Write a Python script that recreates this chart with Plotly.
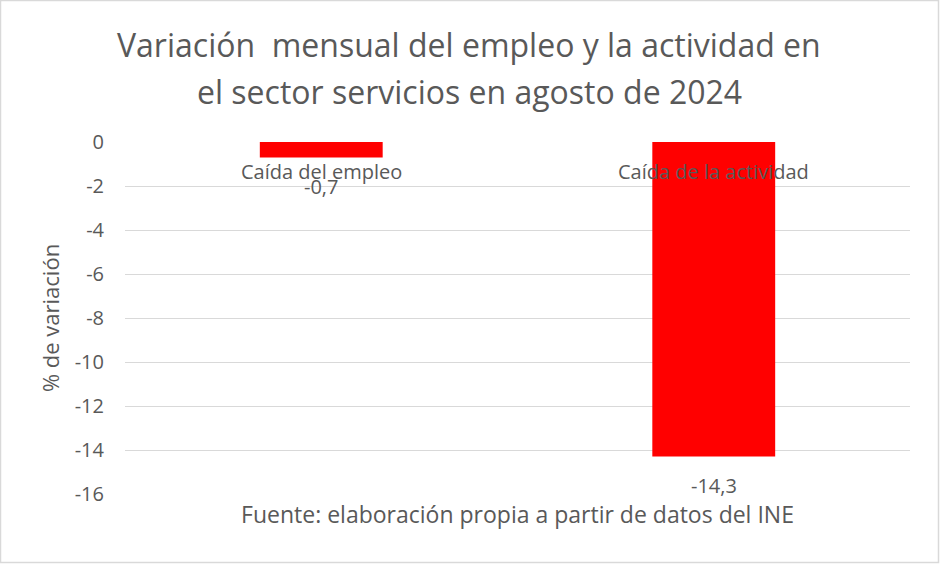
import plotly.graph_objects as go

categories = ["Caída del empleo", "Caída de la actividad"]
values = [-0.7, -14.3]
value_labels = ["-0,7", "-14,3"]
y_ticks = [0, -2, -4, -6, -8, -10, -12, -14, -16]

title_lines = ["Variación  mensual del empleo y la actividad en",
               "el sector servicios en agosto de 2024"]
source_text = "Fuente: elaboración propia a partir de datos del INE"
y_title = "% de variación"

FONT = "Open Sans"
GREY = "#595959"

L, R, T, B = 125, 30, 142, 70
W, H = 940, 564
pw, ph = W - L - R, H - T - B


def py(pixel_y):
    """convert a pixel row of the page to paper y"""
    return (ph + T - pixel_y) / ph


fig = go.Figure()
fig.add_trace(go.Bar(x=categories, y=values, marker=dict(color="#ff0000", line=dict(width=0)),
                     hoverinfo="skip"))

# category labels placed near the zero line, like the original
for c in categories:
    fig.add_annotation(x=c, y=0, xref="x", yref="y", text=c, showarrow=False,
                       yshift=-29, font=dict(family=FONT, size=20, color=GREY))
# value labels below each bar end
for c, v, t in zip(categories, values, value_labels):
    fig.add_annotation(x=c, y=v, xref="x", yref="y", text=t, showarrow=False,
                       yshift=-29, font=dict(family=FONT, size=20, color=GREY))

# two-line title
for line, yc in zip(title_lines, [45, 91]):
    fig.add_annotation(x=(469 - L) / pw, y=py(yc), xref="paper", yref="paper", text=line,
                       showarrow=False, xanchor="center", yanchor="middle",
                       font=dict(family=FONT, size=32, color=GREY))

fig.add_shape(type="rect", xref="paper", yref="paper",
              x0=(0.5 - L) / pw, x1=(W - 1.5 - L) / pw,
              y0=py(H - 1.5), y1=py(0.5),
              line=dict(color="#d9d9d9", width=1.5), fillcolor="rgba(0,0,0,0)", layer="below")

fig.update_layout(
    width=W, height=H,
    margin=dict(l=L, r=R, t=T, b=B),
    paper_bgcolor="white", plot_bgcolor="white",
    showlegend=False,
    bargap=0.687,
    font=dict(family=FONT, color=GREY),
    xaxis=dict(showticklabels=False, showgrid=False, zeroline=False, showline=False,
               title=dict(text=source_text, font=dict(family=FONT, size=23, color=GREY), standoff=12)),
    yaxis=dict(range=[-16, 0], tickvals=y_ticks, ticktext=[str(v) for v in y_ticks],
               showgrid=True, gridcolor="#d9d9d9", gridwidth=1, zeroline=False, showline=False,
               tickfont=dict(family=FONT, size=20, color=GREY), ticklabelstandoff=20,
               title=dict(text=y_title, font=dict(family=FONT, size=22, color=GREY), standoff=8)),
)

fig.write_html("out.html")
